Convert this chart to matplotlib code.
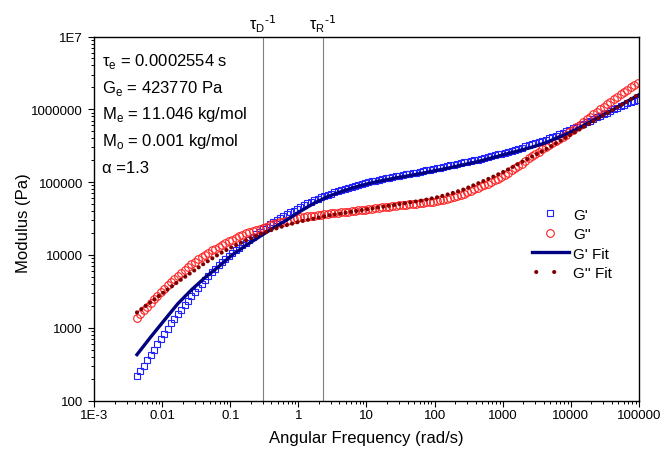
import matplotlib
matplotlib.use("Agg")
import matplotlib.pyplot as plt
from matplotlib.lines import Line2D
from matplotlib.ticker import LogLocator, NullFormatter

plt.rcParams["font.family"] = ["Liberation Sans", "DejaVu Sans"]

# measured data (rad/s, Pa), 20 points per decade
freq = [0.00427, 0.00479, 0.00537, 0.00603, 0.00676, 0.00759, 0.00851, 0.00955,
        0.0107, 0.0120, 0.0135, 0.0151, 0.0170, 0.0191, 0.0214, 0.0240, 0.0269, 0.0302,
        0.0339, 0.0380, 0.0427, 0.0479, 0.0537, 0.0603, 0.0676, 0.0759, 0.0851, 0.0955,
        0.107, 0.120, 0.135, 0.151, 0.170, 0.191, 0.214, 0.240, 0.269, 0.302,
        0.339, 0.380, 0.427, 0.479, 0.537, 0.603, 0.676, 0.759, 0.851, 0.955,
        1.07, 1.20, 1.35, 1.51, 1.70, 1.91, 2.14, 2.40, 2.69, 3.02,
        3.39, 3.80, 4.27, 4.79, 5.37, 6.03, 6.76, 7.59, 8.51, 9.55,
        10.7, 12.0, 13.5, 15.1, 17.0, 19.1, 21.4, 24.0, 26.9, 30.2,
        33.9, 38.0, 42.7, 47.9, 53.7, 60.3, 67.6, 75.9, 85.1, 95.5,
        107, 120, 135, 151, 170, 191, 214, 240, 269, 302,
        339, 380, 427, 479, 537, 603, 676, 759, 851, 955,
        1070, 1200, 1350, 1510, 1700, 1910, 2140, 2400, 2690, 3020,
        3390, 3800, 4270, 4790, 5370, 6030, 6760, 7590, 8510, 9550,
        10700, 12000, 13500, 15100, 17000, 19100, 21400, 24000, 26900, 30200,
        33900, 38000, 42700, 47900, 53700, 60300, 67600, 75900, 85100, 95500]
g1 = [219, 257, 302, 355, 417, 496, 589, 692,
      813, 966, 1148, 1334, 1549, 1778, 2042, 2345, 2692, 3055,
      3467, 3935, 4467, 5070, 5754, 6456, 7244, 8035, 8913, 9766,
      10700, 11600, 12600, 13700, 14800, 16200, 17800, 19300, 20900, 22600,
      24500, 26300, 28200, 30200, 32400, 34500, 36700, 38600, 40700, 43100,
      45700, 48400, 51300, 53700, 56200, 58900, 61700, 63900, 66100, 69200,
      72400, 75000, 77600, 80400, 83200, 86100, 89100, 91200, 93300, 96600,
      100000, 102500, 105000, 107500, 110000, 112500, 115000, 117500, 120000, 123000,
      126000, 128000, 130000, 132500, 135000, 138000, 141000, 144500, 148000, 151500,
      155000, 158500, 162000, 166000, 170000, 174000, 178000, 182000, 186000, 190500,
      195000, 199500, 204000, 209000, 214000, 220000, 226000, 233000, 240000, 245500,
      251000, 260000, 269000, 278500, 288000, 298000, 309000, 320000, 331000, 341000,
      351000, 365000, 380000, 398000, 417000, 436000, 457000, 478000, 501000, 525000,
      550000, 576000, 603000, 631000, 661000, 700000, 741000, 776000, 813000, 851000,
      891000, 944000, 1000000, 1047000, 1096000, 1148000, 1202000, 1259000, 1318000, 1350000]
g2 = [1380, 1549, 1738, 1950, 2188, 2455, 2754, 3073,
      3428, 3824, 4266, 4705, 5188, 5688, 6237, 6800, 7413, 8081,
      8810, 9433, 10100, 10780, 11500, 12180, 12900, 13680, 14500, 15330,
      16200, 17080, 18000, 18830, 19700, 20530, 21400, 22140, 22900, 23690,
      24500, 25380, 26300, 27090, 27900, 28690, 29500, 30390, 31300, 32000,
      32700, 33300, 33900, 34300, 34700, 35300, 35900, 36300, 36700, 37100,
      37600, 38000, 38500, 38900, 39400, 39850, 40300, 40750, 41200, 41700,
      42200, 42900, 43700, 44400, 45200, 45700, 46200, 46700, 47300, 47800,
      48400, 48900, 49500, 50100, 50700, 51300, 51900, 52500, 53100, 54000,
      55000, 56200, 57500, 59200, 61000, 62800, 64600, 66900, 69200, 72500,
      75900, 79500, 83200, 87100, 91200, 95500, 100000, 105800, 112000, 118800,
      126000, 135200, 145000, 155100, 166000, 180000, 195000, 211300, 229000, 245400,
      263000, 281800, 302000, 323700, 347000, 367400, 389000, 417000, 447000, 484400,
      525000, 569100, 617000, 676100, 741000, 794100, 851000, 922500, 1000000, 1084000,
      1175000, 1273000, 1380000, 1496000, 1622000, 1738000, 1862000, 1995000, 2138000, 2300000]

# model fit curves
fit_freq = [0.00427, 0.00676, 0.0107, 0.0170, 0.0269, 0.0427, 0.0676,
            0.107, 0.170, 0.269, 0.427, 0.676, 1.07, 1.70, 2.69, 4.27, 6.76,
            10.7, 17.0, 26.9, 42.7, 67.6, 107, 170, 269, 427, 676,
            1070, 1700, 2690, 4270, 6760, 10700, 17000, 26900, 42700, 67600, 100000]
g1_fit = [427, 741, 1259, 2138, 3311, 4898, 6918,
          10000, 13500, 17800, 23400, 30200, 39800, 51300, 63100, 74100, 85100,
          95500, 105000, 114000, 123000, 133000, 145000, 158000, 174000, 191000, 214000,
          240000, 269000, 302000, 347000, 417000, 501000, 631000, 794000, 1000000, 1288000, 1585000]
g2_fit = [1622, 2239, 3090, 4266, 5754, 7762, 10200,
          12900, 15800, 19100, 22400, 25700, 28800, 31600, 34700, 37200, 39800,
          42700, 45700, 49000, 52500, 56200, 61700, 69200, 79400, 95500, 115000,
          141000, 178000, 224000, 282000, 363000, 468000, 603000, 776000, 1000000, 1288000, 1622000]

inv_tau = [0.298, 2.30]
inv_tau_labels = [r"τ$_\mathregular{D}$$^{\text{-1}}$", r"τ$_\mathregular{R}$$^{\text{-1}}$"]

params = [r"τ$_\mathregular{e}$ = 0.0002554 s",
          r"G$_\mathregular{e}$ = 423770 Pa",
          r"M$_\mathregular{e}$ = 11.046 kg/mol",
          r"M$_\mathregular{o}$ = 0.001 kg/mol",
          "α =1.3"]

xticks = [1e-3, 1e-2, 1e-1, 1, 10, 100, 1000, 1e4, 1e5]
xticklabels = ["1E-3", "0.01", "0.1", "1", "10", "100", "1000", "10000", "100000"]
yticks = [100, 1000, 1e4, 1e5, 1e6, 1e7]
yticklabels = ["100", "1000", "10000", "100000", "1000000", "1E7"]

fig = plt.figure(figsize=(6.64, 4.52), dpi=100)
ax = fig.add_axes([0.1416, 0.1117, 0.8207, 0.8053])

for f in inv_tau:
    ax.axvline(f, color="#808080", lw=0.8, zorder=1)

l1, = ax.plot(freq, g1, ls="none", marker="s", ms=5.0, mfc="none", mec="#2222ff", mew=0.8, zorder=2)
l2, = ax.plot(freq, g2, ls="none", marker="o", ms=5.5, mfc="none", mec="#ff2222", mew=0.8, zorder=2)
l3, = ax.plot(fit_freq, g1_fit, color="#000080", lw=2.4, zorder=3)
ax.plot(fit_freq, g2_fit, color="#800000", lw=3.0, ls=(0, (0.01, 1.3)),
        dash_capstyle="round", zorder=4)
l4 = Line2D([], [], color="#800000", lw=3.0, ls=(3.3, (0.01, 4.3)), dash_capstyle="round")

ax.set_xscale("log"); ax.set_yscale("log")
ax.set_xlim(1e-3, 1e5); ax.set_ylim(100, 1e7)
ax.set_xticks(xticks, labels=xticklabels)
ax.set_yticks(yticks, labels=yticklabels)
for a in (ax.xaxis, ax.yaxis):
    a.set_minor_locator(LogLocator(base=10, subs=range(2, 10), numticks=100))
    a.set_minor_formatter(NullFormatter())
ax.tick_params(which="major", direction="out", length=4, width=0.8, labelsize=9.5, pad=2)
ax.tick_params(which="minor", direction="out", length=2, width=0.7)
ax.tick_params(axis="y", which="major", pad=4)
for s in ax.spines.values():
    s.set_linewidth(1.0)

ax.set_xlabel("Angular Frequency (rad/s)", fontsize=12)
ax.set_ylabel("Modulus (Pa)", fontsize=12)
ax.xaxis.set_label_coords(0.5, -0.08)
ax.yaxis.set_label_coords(-0.115, 0.49)

for f, t in zip(inv_tau, inv_tau_labels):
    ax.text(f, 1.008, t, transform=ax.get_xaxis_transform(), ha="center", va="bottom", fontsize=11.5)

for i, t in enumerate(params):
    ax.text(0.014, 0.921 - i * 0.073, t, transform=ax.transAxes, fontsize=12, va="baseline")

ax.legend([l1, l2, l3, l4], ["G'", "G''", "G' Fit", "G'' Fit"], loc="upper left",
          bbox_to_anchor=(0.803, 0.53), frameon=False, fontsize=11, numpoints=1,
          handlelength=2.45, handletextpad=0.25, labelspacing=0.36, borderpad=0, borderaxespad=0)

fig.savefig("out.png", dpi=100)
